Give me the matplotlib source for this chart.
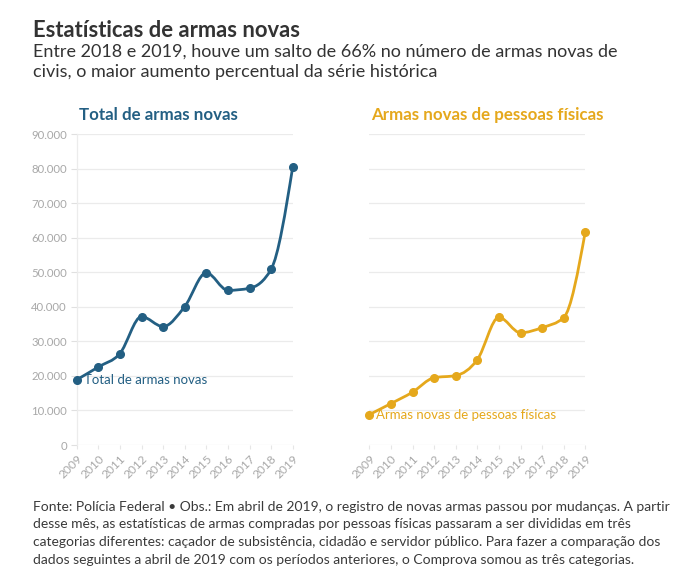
import numpy as np
import matplotlib
matplotlib.use("Agg")
import matplotlib.pyplot as plt
from matplotlib.path import Path
from matplotlib.patches import PathPatch

# Dados
anos = [2009, 2010, 2011, 2012, 2013, 2014, 2015, 2016, 2017, 2018, 2019]
total_armas = [18900, 22600, 26500, 37200, 34300, 40100, 49900, 44800, 45400, 50900, 80500]
pessoas_fisicas = [8800, 12000, 15300, 19500, 20100, 24700, 37000, 32500, 34000, 36900, 61800]
y_ticks = [0, 10000, 20000, 30000, 40000, 50000, 60000, 70000, 80000, 90000]

titulo = "Estatísticas de armas novas"
subtitulo = ["Entre 2018 e 2019, houve um salto de 66% no número de armas novas de",
             "civis, o maior aumento percentual da série histórica"]
rodape = ["Fonte: Polícia Federal • Obs.: Em abril de 2019, o registro de novas armas passou por mudanças. A partir",
          "desse mês, as estatísticas de armas compradas por pessoas físicas passaram a ser divididas em três",
          "categorias diferentes: caçador de subsistência, cidadão e servidor público. Para fazer a comparação dos",
          "dados seguintes a abril de 2019 com os períodos anteriores, o Comprova somou as três categorias."]

AZUL = "#235f83"
OURO = "#e5a81c"
CINZA = "#a8a8a8"
TEXTO = "#333333"

plt.rcParams['font.family'] = ['Lato', 'DejaVu Sans']

W, H = 678, 585
fig = plt.figure(figsize=(W / 100, H / 100), dpi=100)


def px(x, y):
    return x / W, 1 - y / H


def monotone_path(xs, ys):
    # curva monotone (tipo d3.curveMonotoneX) como bezier cúbico
    xs = np.asarray(xs, float)
    ys = np.asarray(ys, float)
    n = len(xs)
    h = np.diff(xs)
    s = np.diff(ys) / h
    t = np.zeros(n)
    for i in range(1, n - 1):
        p = (s[i - 1] * h[i] + s[i] * h[i - 1]) / (h[i - 1] + h[i])
        t[i] = (np.sign(s[i - 1]) + np.sign(s[i])) * min(abs(s[i - 1]), abs(s[i]), 0.5 * abs(p))
    t[0] = (3 * s[0] - t[1]) / 2
    t[-1] = (3 * s[-1] - t[-2]) / 2
    verts = [(xs[0], ys[0])]
    codes = [Path.MOVETO]
    for i in range(n - 1):
        dx = h[i] / 3
        verts += [(xs[i] + dx, ys[i] + dx * t[i]),
                  (xs[i + 1] - dx, ys[i + 1] - dx * t[i + 1]),
                  (xs[i + 1], ys[i + 1])]
        codes += [Path.CURVE4] * 3
    return Path(verts, codes)


def painel(left_px, valores, cor, titulo_painel, rotulo, mostra_y):
    ax = fig.add_axes([left_px / W, 1 - 445 / H, 216 / W, 310.7 / H])
    ax.set_xlim(2009, 2019)
    ax.set_ylim(0, 90000)
    ax.set_yticks(y_ticks)
    ax.set_xticks(anos)
    ax.grid(axis='y', color='#ebebeb', linewidth=0.9)
    ax.set_axisbelow(True)
    for sp in ['top', 'right', 'bottom']:
        ax.spines[sp].set_visible(False)
    if mostra_y:
        ax.spines['left'].set_color('#ececec')
        ax.spines['left'].set_linewidth(0.9)
        ax.set_yticklabels([f"{v:,}".replace(",", ".") for v in y_ticks])
        ax.tick_params(axis='y', length=4, width=0.8, color='#e0e0e0', pad=3,
                       labelsize=8.2, labelcolor=CINZA)
    else:
        ax.spines['left'].set_visible(False)
        ax.tick_params(axis='y', length=0, labelleft=False)
    ax.tick_params(axis='x', length=3, width=0.8, color='#e6e6e6', pad=3,
                   labelsize=8.6, labelcolor=CINZA)
    for lab in ax.get_xticklabels():
        lab.set_rotation(45)
        lab.set_ha('right')
        lab.set_va('top')
        lab.set_rotation_mode('anchor')

    ax.add_patch(PathPatch(monotone_path(anos, valores), facecolor='none',
                           edgecolor=cor, linewidth=2.0, clip_on=False,
                           capstyle='round', joinstyle='round'))
    ax.plot(anos, valores, 'o', color=cor, markersize=5.5, clip_on=False, zorder=3)
    ax.annotate(rotulo, xy=(anos[0], valores[0]), xytext=(5, 0),
                textcoords='offset points', va='center', ha='left',
                color=cor, fontsize=9.5, zorder=4)
    fig.text(*px(left_px + 2, 120), titulo_painel, color=cor, fontsize=12.2,
             fontweight='bold', va='baseline', ha='left')
    return ax


painel(76.7, total_armas, AZUL, "Total de armas novas", "Total de armas novas", True)
painel(369.3, pessoas_fisicas, OURO, "Armas novas de pessoas físicas",
       "Armas novas de pessoas físicas", False)

fig.text(*px(33, 37), titulo, color=TEXTO, fontsize=15.8, fontweight='bold', va='baseline')
for i, linha in enumerate(subtitulo):
    fig.text(*px(33, 56.7 + i * 20), linha, color=TEXTO, fontsize=13.0, va='baseline')
for i, linha in enumerate(rodape):
    fig.text(*px(33, 510.7 + i * 17.8), linha, color='#3a3a3a', fontsize=10.0, va='baseline')

fig.savefig("out.png", dpi=100, facecolor='white')
